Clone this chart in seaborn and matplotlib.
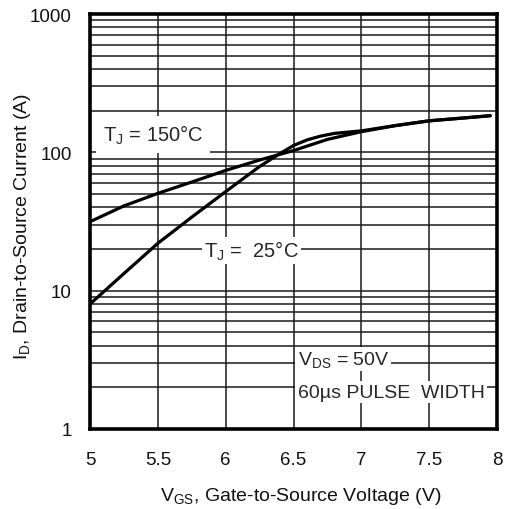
import numpy as np
import pandas as pd
import seaborn as sns
import matplotlib
matplotlib.use("Agg")
import matplotlib.pyplot as plt
from matplotlib.ticker import LogLocator, NullFormatter

# Transfer characteristics: drain current vs gate-source voltage
vgs_150 = [5.0, 5.25, 5.5, 5.75, 6.0, 6.25, 6.5, 6.75, 7.0, 7.25, 7.5, 7.75, 7.95]
id_150 = [31.5, 41, 50.5, 61, 74, 88, 103, 124, 141, 156, 169, 177, 184]

vgs_25 = [5.0, 5.25, 5.5, 5.75, 6.0, 6.25, 6.4, 6.5, 6.6, 6.7, 6.8, 7.0, 7.25, 7.5, 7.75, 7.95]
id_25 = [8.0, 13.3, 22, 34, 52, 79, 98, 112, 123, 131, 137, 143, 156, 169, 177, 184]

x_ticks = [5, 5.5, 6, 6.5, 7, 7.5, 8]
x_tick_labels = ["5", "5.5", "6", "6.5", "7", "7.5", "8"]
y_ticks = [1, 10, 100, 1000]
y_tick_labels = ["1", "10", "100", "1000"]

df = pd.concat([
    pd.DataFrame({"VGS": vgs_150, "ID": id_150, "TJ": "150"}),
    pd.DataFrame({"VGS": vgs_25, "ID": id_25, "TJ": "25"}),
])

sns.set_style("white")
plt.rcParams["font.family"] = ["Liberation Sans", "DejaVu Sans"]
plt.rcParams["mathtext.default"] = "regular"

fig = plt.figure(figsize=(5.05, 5.10), dpi=100)
ax = fig.add_axes([90 / 505, 1 - 430 / 510, 407 / 505, 415 / 510])

sns.lineplot(data=df, x="VGS", y="ID", hue="TJ", palette=["black", "black"],
             linewidth=2.3, legend=False, sort=False, ax=ax, zorder=4)

ax.set_yscale("log")
ax.set_xlim(5, 8)
ax.set_ylim(1, 1000)

ax.set_xticks(x_ticks)
ax.set_xticklabels(x_tick_labels)
ax.set_yticks(y_ticks)
ax.set_yticklabels(y_tick_labels)
ax.yaxis.set_minor_locator(LogLocator(base=10, subs=np.arange(2, 10)))
ax.yaxis.set_minor_formatter(NullFormatter())

ax.set_axisbelow(True)
ax.grid(which="both", axis="y", color="#1a1a1a", linewidth=1.1)
ax.grid(which="major", axis="x", color="#1a1a1a", linewidth=1.1)

ax.tick_params(axis="both", which="both", length=0, labelsize=13.5, colors="#111111")
ax.tick_params(axis="x", pad=16)
ax.tick_params(axis="y", pad=13)

for s in ax.spines.values():
    s.set_color("black")
    s.set_linewidth(2.6)

ax.set_xlabel("V$_{GS}$, Gate-to-Source Voltage (V)", fontsize=14, color="#111111")
ax.set_ylabel("I$_D$, Drain-to-Source Current (A)", fontsize=14, color="#111111")
ax.xaxis.set_label_coords(0.518, -0.135)
ax.yaxis.set_label_coords(-0.14, 0.49)

box = dict(facecolor="white", edgecolor="none", pad=1.5)
ax.text(5.095, 135, "T$_J$ = 150°C", fontsize=14.5, ha="left", va="center",
        bbox=dict(facecolor="white", edgecolor="none", pad=5), zorder=3)
ax.text(5.84, 19.5, "T$_J$ =  25°C", fontsize=14.5, ha="left", va="center",
        bbox=box, zorder=3)
ax.text(6.53, 3.2, "V$_{DS}$ = 50V", fontsize=14, ha="left", va="center",
        bbox=box, zorder=3)
ax.text(6.53, 1.85, "60µs PULSE  WIDTH", fontsize=14, ha="left", va="center",
        bbox=box, zorder=3)

fig.savefig("out.png", dpi=100)
